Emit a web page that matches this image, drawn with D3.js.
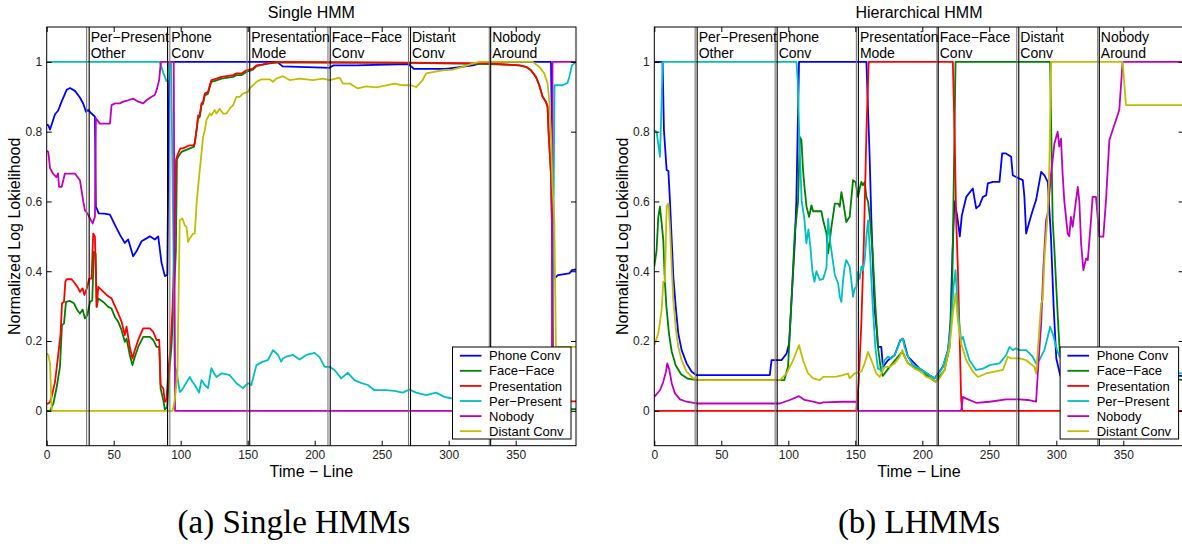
<!DOCTYPE html>
<html>
<head>
<meta charset="utf-8">
<script src="https://cdn.jsdelivr.net/npm/d3@7"></script>
<style>
  body { margin: 0; background: #fff; }
  svg { display: block; }
  text { font-family: "Liberation Sans", Arial, Helvetica, sans-serif; }
</style>
</head>
<body>
<script>
// ---- data ----
const tTicks = [0, 50, 100, 150, 200, 250, 300, 350];
const vTicks = [0, 0.2, 0.4, 0.6, 0.8, 1];
const vTickLabels = ["0", "0.2", "0.4", "0.6", "0.8", "1"];

const seriesNames = ["Phone Conv", "Face\u2212Face", "Presentation", "Per\u2212Present", "Nobody", "Distant Conv"];
const segmentLabels = [
    ["Per\u2212Present", "Other"], ["Phone", "Conv"], ["Presentation", "Mode"],
    ["Face\u2212Face", "Conv"], ["Distant", "Conv"], ["Nobody", "Around"]
];

// segment boundaries (each drawn as a grey and a black line)
const singleBoundGray = [29.8, 91.9, 149.5, 209.9, 270, 330.3];
const singleBoundBlack = [31.7, 90.2, 151.5, 211.6, 271.5, 331.3];
const hierBoundGray = [30.5, 90.2, 150.8, 210.9, 270.5, 330.9];
const hierBoundBlack = [32, 91.7, 152.3, 211.9, 272, 332.1];

// Single HMM
const singlePhone = [[0,0.82],[1.2,0.818],[2.5,0.806],[6.2,0.85],[8.5,0.86],[11.2,0.887],[14.9,0.92],[17.4,0.925],[21.1,0.917],[24.8,0.898],[27.3,0.88],[29.3,0.857],[31,0.862],[33.5,0.852],[36,0.843],[36.7,0.584],[37.3,0.58],[38.8,0.566],[43,0.565],[47.2,0.562],[50.9,0.533],[54.6,0.505],[58.3,0.481],[60.8,0.491],[64.5,0.443],[67,0.457],[70.8,0.486],[77,0.5],[80.7,0.491],[83.2,0.5],[85.7,0.424],[88.2,0.386],[90,0.39],[91.5,1],[172,1],[176,0.987],[200,0.984],[211,0.983],[214,0.99],[231,0.99],[270,0.994],[274,0.98],[298,0.98],[318,0.99],[323,0.995],[330,1],[376.3,1],[378.8,0.379],[381.5,0.389],[390,0.394],[392,0.403],[395,0.405]];
const singleFace = [[0,0],[2.5,0],[5,0.021],[7.5,0.069],[9.9,0.126],[11.4,0.246],[12.9,0.25],[14.4,0.312],[17.4,0.315],[20.3,0.308],[22.8,0.289],[24.8,0.279],[26.8,0.29],[28.5,0.265],[30.3,0.274],[32.3,0.312],[34,0.317],[35.2,0.456],[36.5,0.45],[37.3,0.298],[38.5,0.322],[42.2,0.312],[45.9,0.298],[48.4,0.293],[50.9,0.269],[53.4,0.255],[55.9,0.231],[58.3,0.198],[59.6,0.207],[62,0.16],[64,0.131],[65.8,0.155],[68.3,0.183],[72,0.212],[77,0.212],[79.5,0.203],[82,0.183],[84,0.183],[85,0.064],[87,0.031],[88.2,0.004],[89.9,0.01],[91.4,0.107],[93.1,0.183],[94.4,0.289],[96.4,0.456],[97.2,0.72],[98.1,0.728],[100.6,0.742],[106.8,0.752],[110,0.757],[111.3,0.79],[113,0.838],[114.2,0.842],[115.5,0.876],[116.7,0.88],[118,0.904],[120.4,0.909],[121.7,0.928],[122.9,0.943],[126.7,0.947],[130.4,0.952],[134.1,0.954],[139.1,0.957],[141.6,0.962],[145.3,0.962],[149,0.971],[154,0.978],[156.5,0.988],[161.4,0.992],[166.4,0.996],[173.8,0.999],[210,0.998],[270,0.997],[330,0.994],[352.7,0.99],[357.7,0.986],[361.4,0.976],[365.1,0.957],[367.6,0.933],[370.1,0.9],[372.6,0.885],[373.8,0.871],[374.6,0.795],[376.3,0.68],[377,0.546],[378,0.05],[379,0.005],[395,0.005]];
const singlePres = [[0,0.02],[1.2,0.021],[2.5,0.025],[3.7,0.04],[6.2,0.083],[8.7,0.164],[10.4,0.222],[11.4,0.308],[12.9,0.312],[13.9,0.37],[14.9,0.377],[18.6,0.377],[21.1,0.365],[23.6,0.351],[24.8,0.341],[26.8,0.351],[28.1,0.332],[30.3,0.355],[31.7,0.379],[33.5,0.379],[34.7,0.508],[36,0.499],[37.3,0.298],[38.5,0.355],[41,0.346],[44.7,0.332],[48.4,0.322],[50.9,0.3],[53.4,0.279],[55.9,0.255],[58.3,0.217],[59.6,0.241],[62,0.183],[64,0.15],[65.8,0.174],[68.3,0.203],[72,0.236],[77,0.236],[79.5,0.226],[82,0.203],[84,0.203],[85,0.074],[87,0.064],[88.2,0.026],[89.4,0.03],[90.6,0.107],[92.4,0.183],[93.9,0.293],[95.5,0.5],[96.5,0.72],[98.1,0.738],[99.8,0.752],[101.8,0.752],[104.3,0.757],[106.8,0.761],[109.3,0.761],[110.5,0.766],[111.8,0.804],[113,0.847],[114.2,0.847],[115.5,0.881],[116.7,0.885],[118,0.909],[120.4,0.914],[121.7,0.933],[122.9,0.948],[126.7,0.952],[130.4,0.957],[134.1,0.959],[139.1,0.962],[141.6,0.967],[145.3,0.967],[149,0.976],[154,0.981],[156.5,0.99],[161.4,0.993],[166.4,0.997],[173.8,1],[210,0.999],[270,0.998],[330,0.996],[352.7,0.99],[357.7,0.986],[361.4,0.976],[365.1,0.957],[367.6,0.933],[370.1,0.9],[372.6,0.885],[373.8,0.871],[374.6,0.795],[376.3,0.68],[377,0.546],[378,0.1],[379,0.027],[395,0.027]];
const singlePer = [[0,1],[84.4,1],[86.9,0.97],[89.4,0.945],[90.5,0.95],[91.9,1],[92.8,1],[94.5,0.5],[95.5,0.13],[96.9,0.112],[99.3,0.054],[101,0.06],[103,0.073],[106.8,0.097],[108.5,0.085],[110.5,0.074],[113.7,0.052],[115.5,0.088],[117.9,0.074],[120.4,0.065],[122.9,0.122],[124.5,0.11],[126.7,0.097],[130.4,0.107],[133.5,0.105],[136.6,0.102],[141.6,0.079],[146.5,0.065],[150.2,0.079],[152.7,0.074],[156.5,0.131],[161.4,0.141],[165,0.145],[168.9,0.174],[172.6,0.16],[175,0.141],[176.3,0.15],[178.8,0.155],[183.8,0.16],[188.8,0.147],[193.7,0.16],[199.9,0.166],[203.6,0.154],[207.4,0.126],[211,0.126],[214.8,0.117],[219.8,0.093],[224.7,0.109],[229.7,0.088],[234.5,0.08],[239.6,0.074],[244.6,0.059],[253.3,0.059],[259.5,0.057],[265.7,0.052],[270.7,0.061],[275.7,0.052],[283.2,0.045],[290.6,0.052],[296.8,0.04],[301.8,0.036],[320,0.03],[377,0.03],[378.5,0.7],[379,0.933],[385,0.933],[388.7,0.94],[390,0.957],[392,0.99],[395,1]];
const singleNobody = [[0,0.745],[1.2,0.742],[2.5,0.695],[4.7,0.68],[7.2,0.67],[8.5,0.68],[9.2,0.642],[11.2,0.642],[13.6,0.68],[21.1,0.68],[24.8,0.661],[27.3,0.6],[28.5,0.575],[30.3,0.566],[34.3,0.537],[36,0.556],[36.7,0.838],[39.7,0.823],[47.2,0.823],[48.4,0.876],[51,0.881],[54.6,0.881],[57.1,0.886],[60.8,0.89],[64.5,0.895],[68.3,0.886],[72,0.881],[74.5,0.89],[78.2,0.9],[80.7,0.905],[82.4,0.924],[83.9,0.948],[85.2,1],[94.8,1],[95.8,0],[377,0],[377.5,1],[395,1]];
const singleDistant = [[0,0.165],[1.2,0.16],[2.5,0.136],[3.7,0.005],[4,0],[94,0],[95.5,0.03],[97.5,0.1],[99.3,0.546],[101.3,0.551],[103,0.532],[104.3,0.527],[105.5,0.484],[106.8,0.494],[109.3,0.508],[110.5,0.508],[112,0.6],[114.2,0.69],[115.5,0.738],[116.7,0.785],[118,0.804],[119.2,0.833],[121.7,0.852],[122.9,0.847],[125.4,0.862],[126.7,0.852],[129.1,0.866],[131.6,0.852],[134.1,0.852],[136.6,0.866],[139.1,0.876],[141.6,0.9],[144,0.9],[146.5,0.909],[150.2,0.914],[151.5,0.924],[154,0.933],[156.5,0.943],[160.2,0.95],[166.4,0.95],[168.9,0.943],[171.4,0.952],[176.3,0.959],[181.3,0.948],[188.8,0.952],[198.7,0.948],[206.2,0.952],[211.1,0.948],[218.6,0.955],[221.1,0.938],[226,0.938],[232.2,0.924],[238.4,0.93],[245.9,0.927],[253.3,0.933],[259.5,0.938],[265.7,0.933],[271.9,0.933],[275.7,0.928],[280.6,0.948],[283.2,0.967],[288.1,0.971],[295.5,0.976],[303,0.978],[310.4,0.986],[317.9,0.995],[322.9,1],[362.6,1],[367.6,0.986],[371.3,0.967],[373.8,0.938],[375,0.89],[376.3,0.795],[377.5,0.642],[378.8,0.546],[380,0.183],[395,0.183]];

// Hierarchical HMM
const hierPhone = [[0,1],[6.2,1],[7.2,0.804],[9.2,0.69],[10.5,0.687],[11.7,0.6],[13,0.489],[14.2,0.384],[16.2,0.289],[17.9,0.222],[20.4,0.174],[24.1,0.136],[27.9,0.112],[31.6,0.102],[86.2,0.102],[87.5,0.145],[94.9,0.145],[98.7,0.164],[100.6,0.193],[102.4,0.317],[104.8,0.48],[106,0.6],[108,1],[158.3,1],[160.7,0.728],[162,0.546],[163.2,0.413],[164.5,0.289],[166.2,0.222],[166.9,0.183],[169.4,0.183],[170.6,0.126],[174.4,0.145],[179.4,0.16],[183.6,0.203],[185.6,0.207],[189.3,0.155],[198,0.121],[205.4,0.102],[209.2,0.093],[215.4,0.126],[219.2,0.174],[221,0.25],[222.5,0.45],[224,0.6],[226,0.56],[228,0.5],[229.5,0.56],[232.8,0.613],[237.7,0.637],[240.2,0.58],[242.7,0.589],[245.2,0.613],[247.7,0.618],[248.9,0.652],[252.6,0.656],[257.6,0.656],[259.6,0.738],[262.1,0.738],[266.3,0.728],[267.5,0.675],[270,0.67],[275,0.661],[276.2,0.613],[277.5,0.508],[279.5,0.537],[282.4,0.575],[284.9,0.604],[288.7,0.685],[291.2,0.675],[293.6,0.656],[296,0.5],[298,0.3],[300,0.15],[303,0.1],[395,0.1]];
const hierFace = [[0,0.413],[1.7,0.46],[3,0.556],[4.2,0.585],[5.5,0.537],[6.7,0.489],[7.9,0.37],[9,0.3],[11,0.22],[13,0.17],[16,0.13],[20,0.105],[25,0.092],[31.6,0.088],[97,0.088],[99.8,0.126],[102.4,0.317],[104.8,0.508],[107.3,0.6],[108.6,0.785],[109.8,0.776],[111,0.69],[112.3,0.632],[113.6,0.585],[115.5,0.556],[117.3,0.589],[118.5,0.572],[124.7,0.572],[126,0.546],[128.5,0.508],[129.7,0.451],[131,0.49],[132.2,0.527],[134.7,0.594],[137.2,0.594],[138.4,0.585],[139.6,0.627],[140.9,0.6],[143.3,0.541],[145.8,0.556],[148.3,0.661],[150.3,0.655],[152,0.613],[153.3,0.637],[154.5,0.656],[155.7,0.646],[157,0.656],[158.3,0.613],[159.5,0.6],[161,0.55],[163,0.45],[165,0.3],[167,0.18],[169,0.12],[170.5,0.1],[175.6,0.126],[185.1,0.17],[189.3,0.136],[199.2,0.112],[209.9,0.083],[216.6,0.117],[220.4,0.183],[222.3,0.35],[224.8,1],[295.4,1],[297.3,0.546],[298.6,0.46],[301.1,0.27],[302.4,0.18],[305,0.12],[395,0.088]];
const hierPres = [[0,0],[150.8,0],[152.5,0.08],[154.5,0.25],[156.5,0.5],[158.3,0.8],[160,1],[222.8,1],[224.1,0.795],[225.3,0.546],[226.5,0.413],[227.8,0.222],[229,0.031],[229.8,0],[395,0]];
const hierPer = [[0,0.804],[1.7,0.8],[4.2,0.728],[5.2,0.85],[6.2,1],[106.1,1],[107,0.95],[108.5,0.75],[110,0.6],[112,0.55],[113.5,0.48],[115,0.52],[116.5,0.47],[118,0.4],[119.5,0.37],[121,0.4],[123.5,0.375],[126,0.378],[128.5,0.41],[129.7,0.55],[131.4,0.48],[134.7,0.39],[137.2,0.365],[138.4,0.327],[139.6,0.312],[140.9,0.375],[142.1,0.413],[143.3,0.432],[145.8,0.413],[147,0.375],[148.3,0.327],[149.5,0.351],[150.8,0.355],[152,0.398],[153.3,0.378],[154.5,0.413],[155.7,0.403],[157,0.432],[158.3,0.5],[159.5,0.546],[161,0.45],[163,0.3],[165,0.18],[166.9,0.121],[169.4,0.117],[171.9,0.145],[174.4,0.155],[176.8,0.15],[179.4,0.16],[181.9,0.183],[183.6,0.203],[185.6,0.207],[186.8,0.183],[189.3,0.155],[193,0.131],[198,0.121],[201.7,0.112],[205.4,0.102],[209.2,0.093],[211.7,0.102],[215.4,0.126],[219.2,0.174],[221.6,0.25],[223.3,0.355],[224.8,0.403],[225.8,0.336],[227.3,0.26],[229,0.203],[230.3,0.212],[232.2,0.183],[235.2,0.145],[240.2,0.117],[245.2,0.121],[250.2,0.131],[257.6,0.136],[262.6,0.16],[265.1,0.183],[267.5,0.174],[270,0.179],[272.5,0.174],[277.5,0.174],[282.4,0.155],[284.9,0.136],[287.4,0.145],[291.1,0.174],[293.6,0.212],[295.4,0.241],[297.4,0.22],[299.9,0.183],[302.4,0.155],[310,0.12],[395,0.107]];
const hierNobody = [[0,0.04],[4.2,0.059],[6.7,0.083],[8.7,0.112],[9.7,0.136],[11.2,0.118],[13,0.079],[15.4,0.05],[19.2,0.033],[24.1,0.026],[31.6,0.021],[93.7,0.021],[101.1,0.031],[108,0.042],[112.2,0.031],[118.5,0.026],[123.5,0.021],[126,0.024],[140.9,0.026],[150.8,0.026],[152,0],[229,0],[230.3,0.04],[232.8,0.035],[240.2,0.023],[250.2,0.026],[262.6,0.033],[272.5,0.033],[278.7,0.031],[284.9,0.026],[286.8,0.145],[288.7,0.25],[290.4,0.413],[292.4,0.546],[293.6,0.566],[296.1,0.68],[298.6,0.766],[301,0.8],[302.2,0.757],[303.5,0.78],[304.7,0.68],[306,0.6],[308.5,0.508],[309.7,0.5],[310.9,0.556],[312.2,0.527],[313.5,0.566],[316,0.642],[317.2,0.6],[318.5,0.48],[320.2,0.403],[322.2,0.437],[323.5,0.432],[325.9,0.546],[327.1,0.613],[329.6,0.613],[332.1,0.499],[335.1,0.499],[337.1,0.604],[339.6,0.776],[347,0.862],[349.5,1],[395,1]];
const hierDistant = [[0,0.188],[3,0.222],[5.5,0.289],[6.7,0.37],[7.9,0.37],[9.2,0.585],[10.5,0.594],[11.7,0.527],[13,0.413],[14.2,0.317],[16.2,0.231],[17.9,0.183],[20.4,0.145],[24.1,0.112],[29.1,0.093],[31.6,0.088],[93.7,0.088],[98.7,0.107],[103.6,0.145],[108,0.188],[111,0.145],[114.8,0.107],[118.5,0.093],[123.5,0.088],[126,0.097],[135.9,0.098],[140.9,0.102],[144.6,0.107],[145.8,0.093],[149.5,0.107],[154.5,0.112],[157,0.136],[159.5,0.169],[162,0.145],[165.7,0.107],[168.2,0.097],[171.9,0.126],[175.6,0.126],[179.4,0.136],[183.1,0.155],[185.1,0.174],[186.8,0.155],[189.3,0.136],[194.3,0.121],[199.2,0.112],[202.9,0.097],[206.7,0.093],[209.9,0.083],[212.9,0.093],[216.6,0.117],[220.4,0.183],[222.8,0.279],[224.8,0.336],[226.5,0.26],[229,0.193],[232.8,0.145],[237.7,0.112],[241.5,0.097],[247.7,0.107],[253.9,0.112],[260.1,0.117],[263.8,0.155],[266.3,0.15],[272.5,0.15],[277.5,0.145],[283.7,0.126],[284.9,0.107],[286.8,0.203],[288.7,0.308],[289.9,0.317],[291.2,0.441],[293.6,0.566],[294.8,0.7],[296.1,1],[349.5,1],[352,0.876],[395,0.876]];

// ---- styles / layout ----
const colors = ["#0000ff", "#008000", "#ff0000", "#00bfbf", "#bf00bf", "#bfbf00"];
const width = 1182, height = 550;
const panelW = 529.3;
const plotTop = 27, plotBottom = 445.7;

const svg = d3.select("body").append("svg")
    .attr("width", width)
    .attr("height", height);

const x = d3.scaleLinear().domain([0, 395]).range([0, panelW]);
const y = d3.scaleLinear().domain([-0.1, 1.1]).range([plotBottom, plotTop]);

function drawPanel(left, title, series, boundGray, boundBlack, idx) {
    const g = svg.append("g").attr("transform", `translate(${left},0)`);

    g.append("clipPath").attr("id", "clip" + idx)
        .append("rect")
        .attr("x", 0).attr("y", plotTop)
        .attr("width", panelW).attr("height", plotBottom - plotTop);

    g.append("rect")
        .attr("x", 0).attr("y", plotTop)
        .attr("width", panelW).attr("height", plotBottom - plotTop)
        .attr("fill", "#fff");

    const line = d3.line().x(d => x(d[0])).y(d => y(d[1]));

    const plot = g.append("g").attr("clip-path", `url(#clip${idx})`);
    series.forEach((s, i) => {
        plot.append("path")
            .attr("d", line(s))
            .attr("fill", "none")
            .attr("stroke", colors[i])
            .attr("stroke-width", 1.8)
            .attr("stroke-linejoin", "round");
    });

    // segment boundaries
    boundGray.forEach(b => {
        plot.append("line")
            .attr("x1", x(b)).attr("x2", x(b))
            .attr("y1", plotTop).attr("y2", plotBottom)
            .attr("stroke", "#777").attr("stroke-width", 1.1);
    });
    boundBlack.forEach(b => {
        plot.append("line")
            .attr("x1", x(b)).attr("x2", x(b))
            .attr("y1", plotTop).attr("y2", plotBottom)
            .attr("stroke", "#000").attr("stroke-width", 1.1);
    });

    // segment names
    segmentLabels.forEach((lab, i) => {
        const sx = x(Math.max(boundGray[i], boundBlack[i])) + 1.5;
        const t = g.append("text")
            .attr("font-size", 14)
            .attr("fill", "#000");
        t.append("tspan").attr("x", sx).attr("y", 42).text(lab[0]);
        t.append("tspan").attr("x", sx).attr("y", 58).text(lab[1]);
    });

    // axes, ticks inward like matlab
    const xAxis = d3.axisBottom(x).tickValues(tTicks).tickSize(-5).tickSizeOuter(0).tickPadding(5);
    const xTop = d3.axisTop(x).tickValues(tTicks).tickSize(-5).tickSizeOuter(0).tickFormat("");
    const yAxis = d3.axisLeft(y).tickValues(vTicks).tickSize(-5).tickSizeOuter(0).tickPadding(4.5)
        .tickFormat((d, i) => vTickLabels[i]);
    const yRight = d3.axisRight(y).tickValues(vTicks).tickSize(-5).tickSizeOuter(0).tickFormat("");

    const axes = [
        g.append("g").attr("transform", `translate(0,${plotBottom})`).call(xAxis),
        g.append("g").attr("transform", `translate(0,${plotTop})`).call(xTop),
        g.append("g").call(yAxis),
        g.append("g").attr("transform", `translate(${panelW},0)`).call(yRight)
    ];
    axes.forEach(a => {
        a.select(".domain").remove();
        a.selectAll(".tick line").attr("stroke", "#000");
        a.selectAll(".tick text")
            .attr("font-size", 12)
            .attr("fill", "#222")
            .style("font-family", '"Liberation Sans", Arial, sans-serif');
    });

    g.append("rect")
        .attr("x", 0).attr("y", plotTop)
        .attr("width", panelW).attr("height", plotBottom - plotTop)
        .attr("fill", "none").attr("stroke", "#000").attr("stroke-width", 1);

    // legend
    const lw = 118.5, lh = 92;
    const lg = g.append("g").attr("transform", `translate(${panelW - 5 - lw},${plotBottom - 6.7 - lh})`);
    lg.append("rect").attr("width", lw).attr("height", lh)
        .attr("fill", "#fff").attr("stroke", "#000").attr("stroke-width", 1);
    seriesNames.forEach((n, i) => {
        const ly = 8.7 + i * 15.1;
        lg.append("line")
            .attr("x1", 7.3).attr("x2", 29)
            .attr("y1", ly).attr("y2", ly)
            .attr("stroke", colors[i]).attr("stroke-width", 1.8);
        lg.append("text")
            .attr("x", 36.6).attr("y", ly + 4.6)
            .attr("font-size", 13).attr("fill", "#000")
            .text(n);
    });

    // titles
    g.append("text")
        .attr("x", panelW / 2).attr("y", 17.5)
        .attr("text-anchor", "middle")
        .attr("font-size", 16)
        .text(title);

    g.append("text")
        .attr("x", panelW / 2).attr("y", 477)
        .attr("text-anchor", "middle")
        .attr("font-size", 16)
        .text("Time \u2212 Line");

    g.append("text")
        .attr("transform", `translate(-26.5,${(plotTop + plotBottom) / 2}) rotate(-90)`)
        .attr("text-anchor", "middle")
        .attr("font-size", 16)
        .text("Normalized Log Lokielihood");
}

drawPanel(46.7, "Single HMM",
    [singlePhone, singleFace, singlePres, singlePer, singleNobody, singleDistant],
    singleBoundGray, singleBoundBlack, 0);

drawPanel(654.3, "Hierarchical HMM",
    [hierPhone, hierFace, hierPres, hierPer, hierNobody, hierDistant],
    hierBoundGray, hierBoundBlack, 1);

// sub-figure captions
svg.append("text")
    .attr("x", 294).attr("y", 533)
    .attr("text-anchor", "middle")
    .attr("font-size", 33)
    .style("font-family", '"Liberation Serif", "Times New Roman", serif')
    .text("(a) Single HMMs");

svg.append("text")
    .attr("x", 919).attr("y", 533)
    .attr("text-anchor", "middle")
    .attr("font-size", 33)
    .style("font-family", '"Liberation Serif", "Times New Roman", serif')
    .text("(b) LHMMs");
</script>
</body>
</html>
